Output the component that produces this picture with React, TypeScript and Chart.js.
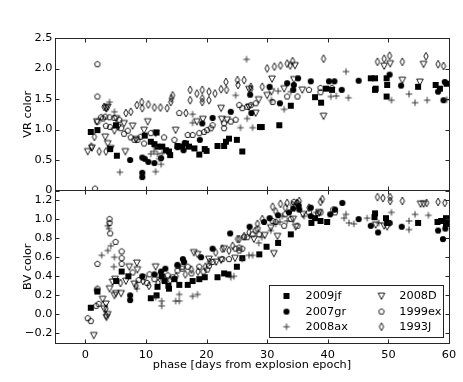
import React, { useEffect, useRef } from 'react';
import { Chart, registerables } from 'chart.js';

Chart.register(...registerables);

type P = [number, number];

const seriesNames = ['2009jf', '2007gr', '2008ax', '2008D', '1999ex', '1993J'];
const markerKinds = ['square', 'circle', 'plus', 'tri', 'pent', 'diamond'];
const xTicks = [0, 10, 20, 30, 40, 50, 60];
const vrTicks = [0, 0.5, 1, 1.5, 2, 2.5];
const bvTicks = [-0.2, 0, 0.2, 0.4, 0.6, 0.8, 1.0, 1.2];
const xLabel = 'phase [days from explosion epoch]';
const vrLabel = 'VR color';
const bvLabel = 'BV color';

// ---- VR colour (top panel) ----
const vr2009jf: P[] = [
  [0.9, 0.96], [2.0, 0.99], [4.1, 0.68], [5.05, 1.07], [5.2, 0.57], [9.8, 0.9], [10.8, 0.8], [11.4, 0.76],
  [11.75, 0.95], [11.9, 0.72], [12.7, 0.72], [13.3, 0.66], [13.8, 0.64], [14.0, 0.58], [15.2, 0.73], [16.0, 0.72],
  [16.6, 0.77], [17.1, 0.72], [18.0, 0.69], [18.8, 0.59], [19.7, 0.68], [20.0, 0.65], [21.8, 0.73], [22.9, 0.73],
  [23.2, 0.8], [23.7, 0.85], [25.0, 0.83], [25.9, 0.64], [28.8, 1.04], [29.1, 1.04], [32.0, 1.07], [33.9, 1.39],
  [37.9, 1.53], [38.9, 1.44], [39.7, 1.67], [40.7, 1.65], [47.1, 1.84], [47.8, 1.84], [47.9, 1.67], [47.8, 1.65],
  [49.7, 1.84], [49.8, 1.73], [49.7, 1.54], [54.9, 1.7], [57.8, 1.73], [58.5, 1.67], [59.6, 1.75],
];
const vr2007gr: P[] = [
  [7.4, 0.5], [9.4, 0.54], [9.8, 0.52], [10.4, 0.47], [9.4, 0.29], [9.4, 0.22], [11.4, 0.45], [12.5, 0.53],
  [15.2, 0.71], [16.2, 0.66], [16.4, 0.78], [18.9, 0.83], [19.3, 1.1], [21.0, 1.19], [24.0, 1.29], [27.2, 1.57],
  [27.4, 1.27], [30.4, 1.7], [32.1, 1.43], [33.3, 1.76], [34.3, 1.65], [34.4, 1.73], [35.1, 1.84], [37.2, 1.79],
  [40.2, 1.79], [41.1, 1.79], [42.3, 1.65], [45.1, 1.8], [50.2, 1.9], [52.1, 1.72], [58.2, 1.62], [59.1, 1.48],
  [59.3, 1.78],
];
const vr2008ax: P[] = [
  [4.0, 1.45], [4.8, 1.29], [5.7, 0.3], [10.8, 0.6], [11.3, 0.64], [11.6, 0.31], [11.6, 0.71], [11.9, 0.6],
  [12.2, 0.52], [12.5, 0.43], [12.7, 0.61], [17.7, 1.11], [17.7, 1.25], [24.8, 1.56], [25.6, 1.03], [26.6, 2.15],
  [26.7, 1.18], [27.6, 1.03], [30.7, 1.48], [31.8, 1.63], [32.8, 1.33], [33.9, 1.62], [40.5, 1.54], [41.4, 1.55],
  [43.0, 1.95], [43.4, 1.52], [50.5, 1.48], [53.4, 1.58], [54.4, 1.44], [56.4, 1.48], [59.6, 1.49],
];
const vr2008D: P[] = [
  [0.4, 0.64], [1.1, 0.7], [1.9, 1.13], [3.3, 0.88], [3.4, 1.35], [3.7, 1.37], [3.7, 0.77], [4.2, 0.69],
  [4.8, 0.98], [5.1, 1.18], [5.4, 1.04], [6.4, 1.1], [6.6, 0.64], [7.8, 1.06], [8.4, 0.84], [9.7, 0.99],
  [10.3, 1.13], [11.6, 0.94], [14.9, 0.99], [18.4, 1.13], [19.4, 1.17], [22.4, 1.35], [22.5, 1.17], [23.4, 1.16],
  [27.0, 1.37], [27.0, 1.66], [28.1, 1.27], [28.6, 1.49], [30.0, 1.56], [30.7, 1.62], [30.8, 1.83], [32.8, 1.67],
  [34.4, 1.82], [34.6, 2.05], [35.8, 1.65], [39.3, 1.22], [49.3, 2.04], [50.3, 2.08], [52.3, 1.81], [55.2, 1.78],
  [55.8, 2.07],
];
const vr1999ex: P[] = [
  [1.6, 0.03], [2.0, 2.07], [2.0, 1.54], [2.0, 1.13], [2.6, 1.2], [2.9, 1.18], [3.3, 1.21], [3.4, 1.06],
  [4.0, 1.2], [4.1, 1.04], [4.8, 1.19], [5.6, 1.16], [5.9, 1.02], [6.4, 0.93], [7.0, 0.98], [7.5, 0.87],
  [8.1, 0.83], [8.6, 0.83], [9.1, 0.88], [9.7, 0.77], [10.8, 0.94], [13.0, 0.87], [14.7, 0.83], [15.5, 1.27],
  [16.9, 0.91], [17.7, 0.91], [18.8, 0.94], [19.6, 0.96], [20.1, 0.99], [20.7, 1.02], [21.0, 1.07], [22.9, 1.02],
  [22.9, 1.1], [24.0, 1.13], [24.8, 1.16], [25.4, 1.4], [25.9, 1.35], [26.7, 1.37], [27.3, 1.4], [28.1, 1.43],
  [30.9, 1.45], [33.3, 1.54], [35.0, 1.54], [36.9, 1.65], [38.8, 1.68], [38.8, 1.61], [40.7, 1.68],
];
const vr1993J: P[] = [
  [1.0, 0.72], [1.5, 0.88], [2.3, 0.64], [3.1, 1.37], [3.4, 0.64], [3.5, 1.35], [6.7, 1.27], [7.5, 1.29],
  [8.5, 1.4], [9.3, 1.45], [9.4, 1.35], [10.4, 1.41], [11.4, 1.36], [12.4, 1.36], [13.5, 1.35], [14.1, 1.45],
  [14.2, 1.51], [14.4, 1.56], [16.6, 1.27], [17.3, 1.65], [17.3, 1.48], [18.4, 1.59], [19.3, 1.65], [19.3, 1.51],
  [19.3, 1.45], [20.4, 1.62], [20.4, 1.48], [21.4, 1.59], [22.4, 1.66], [23.2, 1.78], [23.3, 1.65], [25.1, 1.81],
  [25.2, 1.73], [26.2, 1.81], [27.3, 1.7], [27.3, 1.66], [29.2, 1.7], [30.0, 2.0], [31.2, 2.03], [32.2, 2.05],
  [33.3, 2.08], [33.8, 2.05], [34.2, 2.12], [39.3, 2.16], [48.2, 2.11], [49.3, 2.16], [50.2, 2.21], [52.3, 2.11],
  [56.2, 2.2], [58.2, 2.07], [59.1, 2.04],
];

// ---- BV colour (bottom panel) ----
const bv2009jf: P[] = [
  [0.9, 0.07], [2.0, 0.24], [5.1, 0.35], [6.0, 0.45], [7.1, 0.4], [10.8, 0.17], [11.75, 0.2], [11.9, 0.29],
  [12.6, 0.4], [13.1, 0.35], [13.7, 0.3], [13.8, 0.27], [14.7, 0.37], [15.5, 0.31], [16.9, 0.31], [17.7, 0.35],
  [18.8, 0.37], [19.7, 0.39], [21.8, 0.39], [22.9, 0.43], [23.6, 0.42], [25.0, 0.5], [25.9, 0.59], [28.7, 0.63],
  [29.9, 0.71], [31.8, 0.75], [33.9, 0.84], [37.3, 0.96], [37.9, 1.01], [38.8, 0.98], [39.9, 0.97], [47.7, 1.02],
  [47.8, 1.06], [49.6, 1.01], [49.8, 0.96], [54.9, 0.96], [58.1, 0.97], [58.7, 0.98], [59.5, 1.01], [59.5, 0.95],
];
const bv2007gr: P[] = [
  [7.4, 0.2], [7.4, 0.15], [9.4, 0.4], [11.4, 0.42], [12.5, 0.45], [13.2, 0.48], [15.2, 0.52], [16.1, 0.58],
  [16.3, 0.55], [19.1, 0.6], [21.0, 0.69], [23.9, 0.85], [27.1, 0.92], [29.5, 0.97], [30.4, 1.01], [31.8, 1.04],
  [33.6, 1.07], [34.3, 1.11], [35.2, 1.14], [35.3, 1.1], [37.2, 1.12], [37.2, 1.03], [40.4, 1.05], [41.2, 1.1],
  [42.4, 1.17], [45.1, 1.0], [47.1, 0.93], [48.3, 0.86], [50.2, 0.96], [52.2, 0.92], [58.2, 0.88], [59.0, 0.79],
  [59.4, 0.9],
];
const bv2008ax: P[] = [
  [2.7, 0.62], [3.7, 0.67], [3.7, 0.93], [3.9, 0.9], [4.2, 0.72], [4.8, 0.6], [4.7, 0.5], [8.5, 0.27],
  [11.6, 0.18], [12.6, 0.14], [12.6, 0.09], [14.9, 0.14], [15.5, 0.14], [15.5, 0.21], [17.7, 0.19], [18.5, 0.21],
  [24.0, 0.39], [24.5, 0.4], [25.9, 0.58], [27.0, 0.62], [27.6, 0.62], [28.6, 0.75], [29.1, 0.81], [30.6, 0.88],
  [31.4, 0.95], [32.1, 0.97], [32.5, 1.03], [33.3, 0.98], [36.1, 1.03], [38.1, 1.07], [42.7, 1.01], [43.0, 1.05],
  [43.5, 0.96], [44.3, 0.95], [46.5, 1.01], [48.4, 0.96], [50.2, 0.95], [50.5, 1.07], [53.4, 0.98], [53.4, 0.89],
  [54.4, 1.05], [56.6, 1.04],
];
const bv2008D: P[] = [
  [1.4, -0.22], [2.85, 0.16], [3.1, 0.06], [3.4, 0.11], [3.5, -0.03], [3.7, 0.0], [4.0, 0.27], [4.5, 0.34],
  [4.8, 0.2], [4.9, 0.37], [5.05, 0.22], [5.9, 0.22], [6.7, 0.35], [7.25, 0.5], [8.1, 0.32], [8.5, 0.54],
  [8.6, 0.47], [11.6, 0.5], [17.9, 0.65], [18.5, 0.63], [20.4, 0.58], [21.6, 0.55], [22.4, 0.57], [22.9, 0.69],
  [24.7, 0.59], [27.8, 0.79], [29.6, 0.83], [30.6, 0.91], [31.1, 0.64], [31.7, 0.82], [34.3, 1.0], [34.7, 0.92],
  [35.9, 1.05], [38.6, 1.07], [47.9, 0.94], [49.3, 0.93], [49.8, 0.92], [55.3, 1.16], [55.8, 1.16],
];
const bv1999ex: P[] = [
  [0.4, -0.04], [0.9, -0.07], [1.8, 0.09], [2.2, 0.11], [1.9, 0.25], [2.0, 0.27], [2.0, 0.53], [4.0, 1.0],
  [4.0, 0.96], [4.1, 0.85], [5.0, 0.76], [6.0, 0.66], [6.0, 0.59], [6.0, 0.53], [7.8, 0.44], [8.8, 0.36],
  [9.7, 0.39], [10.2, 0.33], [10.6, 0.42], [11.4, 0.37], [12.2, 0.41], [12.9, 0.36], [13.6, 0.41], [14.4, 0.39],
  [15.2, 0.51], [15.2, 0.46], [16.0, 0.48], [16.0, 0.5], [16.9, 0.5], [17.5, 0.43], [18.8, 0.5], [19.5, 0.45],
  [20.1, 0.47], [20.4, 0.51], [21.0, 0.55], [22.6, 0.58], [23.7, 0.58], [24.8, 0.69], [25.4, 0.67], [25.4, 0.7],
  [25.9, 0.69], [26.2, 0.81], [26.7, 0.81], [27.6, 0.84], [28.1, 0.88], [28.4, 0.9], [28.7, 0.84], [30.9, 0.98],
  [31.4, 0.97], [32.8, 0.93], [33.0, 1.05], [33.9, 1.0], [34.7, 1.14], [35.0, 1.17], [34.4, 1.18], [35.0, 0.93],
  [36.9, 1.07], [38.4, 1.06], [38.8, 1.07], [40.9, 1.1], [41.2, 1.07],
];
const bv1993J: P[] = [
  [3.4, 0.06], [3.4, -0.01], [5.8, 0.33], [8.4, 0.3], [9.5, 0.35], [10.5, 0.3], [12.0, 0.33], [13.0, 0.38],
  [14.0, 0.36], [15.0, 0.4], [16.5, 0.42], [17.5, 0.47], [18.6, 0.45], [19.8, 0.5], [20.5, 0.55], [21.5, 0.65],
  [22.6, 0.69], [23.7, 0.67], [24.3, 0.72], [25.1, 0.79], [25.4, 0.79], [26.2, 0.82], [27.0, 0.86], [28.4, 0.95],
  [29.2, 1.0], [30.9, 1.13], [31.4, 1.08], [32.2, 1.16], [33.0, 1.12], [33.3, 1.17], [34.2, 1.15], [34.9, 1.17],
  [35.3, 1.19], [36.9, 1.12], [38.8, 1.18], [39.1, 1.21], [48.2, 1.23], [49.1, 1.22], [50.3, 1.23], [50.3, 1.19],
  [52.3, 1.19], [56.3, 1.17], [58.2, 1.18], [59.3, 1.17],
];

const vrSeries = [vr2009jf, vr2007gr, vr2008ax, vr2008D, vr1999ex, vr1993J];
const bvSeries = [bv2009jf, bv2007gr, bv2008ax, bv2008D, bv1999ex, bv1993J];

const FONT_FAMILY = "'DejaVu Sans', sans-serif";
const FONT_SIZE = 11.3;

function makeMarker(kind: string): HTMLCanvasElement {
  const c = document.createElement('canvas');
  c.width = 10;
  c.height = 10;
  const ctx = c.getContext('2d') as CanvasRenderingContext2D;
  const m = 5;
  ctx.lineWidth = 0.9;
  ctx.strokeStyle = '#000';
  ctx.fillStyle = '#000';
  ctx.lineJoin = 'miter';
  if (kind === 'square') {
    const h = 3.0;
    ctx.fillRect(m - h, m - h, 2 * h, 2 * h);
  } else if (kind === 'circle') {
    ctx.beginPath();
    ctx.arc(m, m, 3.1, 0, Math.PI * 2);
    ctx.fill();
  } else if (kind === 'plus') {
    const h = 3.3;
    ctx.strokeStyle = '#222';
    ctx.lineWidth = 0.9;
    ctx.beginPath();
    ctx.moveTo(m - h, m);
    ctx.lineTo(m + h, m);
    ctx.moveTo(m, m - h);
    ctx.lineTo(m, m + h);
    ctx.stroke();
  } else if (kind === 'tri') {
    const w = 3.3;
    const hTop = 2.9;
    const hBot = 3.4;
    ctx.beginPath();
    ctx.moveTo(m - w, m - hTop);
    ctx.lineTo(m + w, m - hTop);
    ctx.lineTo(m, m + hBot);
    ctx.closePath();
    ctx.stroke();
  } else if (kind === 'pent') {
    const r = 3.0;
    ctx.beginPath();
    for (let i = 0; i < 5; i++) {
      const a = -Math.PI / 2 + (i * 2 * Math.PI) / 5;
      const px = m + r * Math.cos(a);
      const py = m + r * Math.sin(a);
      if (i === 0) ctx.moveTo(px, py);
      else ctx.lineTo(px, py);
    }
    ctx.closePath();
    ctx.stroke();
  } else if (kind === 'diamond') {
    ctx.beginPath();
    ctx.moveTo(m, m - 3.9);
    ctx.lineTo(m + 2.2, m);
    ctx.lineTo(m, m + 3.9);
    ctx.lineTo(m - 2.2, m);
    ctx.closePath();
    ctx.stroke();
  }
  return c;
}

export default function App() {
  const ref = useRef<HTMLCanvasElement | null>(null);

  useEffect(() => {
    const canvas = ref.current;
    if (!canvas) return;
    const markers = markerKinds.map(makeMarker);
    const font = { family: FONT_FAMILY, size: FONT_SIZE };

    const datasets: any[] = [];
    seriesNames.forEach((name, i) => {
      datasets.push({
        label: name,
        data: vrSeries[i].map(([x, y]) => ({ x, y })),
        yAxisID: 'yVR',
        pointStyle: markers[i],
        pointRadius: 3,
        order: -i,
        showLine: false,
      });
    });
    seriesNames.forEach((name, i) => {
      datasets.push({
        label: name + ' BV',
        data: bvSeries[i].map(([x, y]) => ({ x, y })),
        yAxisID: 'yBV',
        pointStyle: markers[i],
        pointRadius: 3,
        order: -i,
        showLine: false,
      });
    });

    const framePlugin = {
      id: 'mplFrames',
      afterDatasetsDraw(chart: any) {
        const ctx = chart.ctx as CanvasRenderingContext2D;
        const { left, right } = chart.chartArea;
        const xs = chart.scales.x;
        const L = Math.floor(left) + 0.5;
        const R = Math.floor(right) + 0.5;
        const tl = 4;
        ctx.save();
        ctx.strokeStyle = '#262626';
        ctx.lineWidth = 1;
        for (const id of ['yVR', 'yBV']) {
          const s = chart.scales[id];
          const T = Math.floor(s.top) + 0.5;
          const B = Math.floor(s.bottom) + 0.5;
          ctx.beginPath();
          for (const v of xTicks) {
            const px = Math.round(xs.getPixelForValue(v)) + 0.5;
            ctx.moveTo(px, T);
            ctx.lineTo(px, T + tl);
            ctx.moveTo(px, B);
            ctx.lineTo(px, B - tl);
          }
          const yt = id === 'yVR' ? vrTicks : bvTicks;
          for (const v of yt) {
            const py = Math.round(s.getPixelForValue(v)) + 0.5;
            ctx.moveTo(L, py);
            ctx.lineTo(L + tl, py);
            ctx.moveTo(R, py);
            ctx.lineTo(R - tl, py);
          }
          ctx.stroke();
          ctx.strokeRect(L, T, R - L, B - T);
        }
        ctx.restore();
      },
    };

    const legendPlugin = {
      id: 'boxLegend',
      afterDraw(chart: any) {
        const ctx = chart.ctx as CanvasRenderingContext2D;
        const { right, bottom } = chart.chartArea;
        const bx = Math.floor(right) - 179.5;
        const by = Math.floor(bottom) - 57.5;
        const bw = 174;
        const bh = 52;
        ctx.save();
        ctx.fillStyle = '#fff';
        ctx.fillRect(bx, by, bw, bh);
        ctx.strokeStyle = '#222';
        ctx.lineWidth = 1;
        ctx.strokeRect(bx, by, bw, bh);
        ctx.font = `${FONT_SIZE}px ${FONT_FAMILY}`;
        ctx.fillStyle = '#000';
        ctx.textBaseline = 'middle';
        ctx.textAlign = 'left';
        const colMarker = [17, 112];
        const colText = [36, 129.8];
        const rows = [10.5, 26.1, 41.2];
        seriesNames.forEach((name, i) => {
          const col = Math.floor(i / 3);
          const row = i % 3;
          const cy = by + rows[row];
          const mk = markers[i];
          ctx.drawImage(mk, bx + colMarker[col] - mk.width / 2, cy - mk.height / 2);
          ctx.fillText(name, bx + colText[col], cy);
        });
        ctx.restore();
      },
    };

    const chart = new Chart(canvas, {
      type: 'scatter',
      data: { datasets },
      options: {
        animation: false,
        responsive: false,
        devicePixelRatio: 1,
        events: [],
        layout: { padding: { left: 0, right: 14, top: 38, bottom: 0 } },
        plugins: { legend: { display: false }, tooltip: { enabled: false } },
        scales: {
          x: {
            type: 'linear',
            position: 'bottom',
            min: -5,
            max: 60,
            grid: { display: false, drawTicks: false },
            border: { display: false },
            afterBuildTicks: (s: any) => {
              s.ticks = xTicks.map((v) => ({ value: v }));
            },
            afterFit: (s: any) => {
              s.height = 39;
            },
            ticks: {
              color: '#000',
              font,
              padding: 5,
              maxRotation: 0,
              autoSkip: false,
              callback: (v: any) => String(v),
            },
            title: { display: true, text: xLabel, color: '#000', font, padding: { top: 0, bottom: 10 } },
          },
          yBV: {
            type: 'linear',
            position: 'left',
            stack: 'panels',
            stackWeight: 1,
            min: -0.3,
            max: 1.3,
            grid: { display: false, drawTicks: false },
            border: { display: false },
            afterBuildTicks: (s: any) => {
              s.ticks = bvTicks.map((v) => ({ value: v }));
            },
            afterFit: (s: any) => {
              s.width = 55;
            },
            ticks: {
              color: '#000',
              font,
              padding: 2.5,
              autoSkip: false,
              callback: (v: any) => (Number(v) < 0 ? '\u2212' : '') + Math.abs(Number(v)).toFixed(1),
            },
            title: { display: true, text: bvLabel, color: '#000', font, padding: { top: 21.2, bottom: 0 } },
          },
          yVR: {
            type: 'linear',
            position: 'left',
            stack: 'panels',
            stackWeight: 1,
            min: 0,
            max: 2.5,
            grid: { display: false, drawTicks: false },
            border: { display: false },
            afterBuildTicks: (s: any) => {
              s.ticks = vrTicks.map((v) => ({ value: v }));
            },
            afterFit: (s: any) => {
              s.width = 55;
            },
            ticks: {
              color: '#000',
              font,
              padding: 2.5,
              autoSkip: false,
              callback: (v: any) => (v === 0 ? '0' : Number(v).toFixed(1)),
            },
            title: { display: true, text: vrLabel, color: '#000', font, padding: { top: 21.2, bottom: 0 } },
          },
        },
      } as any,
      plugins: [framePlugin, legendPlugin],
    });

    return () => {
      chart.destroy();
    };
  }, []);

  return (
    <div style={{ position: 'fixed', left: 0, top: 0, width: 463, height: 382, background: '#fff' }}>
      <canvas ref={ref} width={463} height={382} style={{ width: 463, height: 382, display: 'block' }} />
    </div>
  );
}
